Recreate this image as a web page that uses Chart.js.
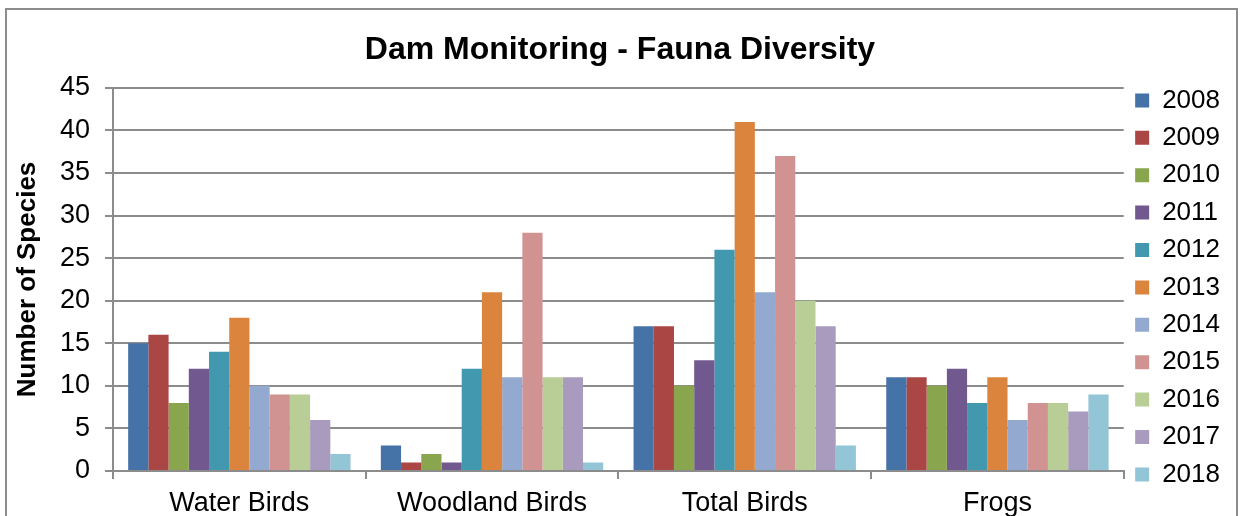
<!DOCTYPE html>
<html>
<head>
<meta charset="utf-8">
<script src="https://cdn.jsdelivr.net/npm/chart.js"></script>
<style>
  html, body { margin: 0; padding: 0; background: #fff; }
  #wrap { width: 1244px; height: 516px; position: relative; }
</style>
</head>
<body>
<div id="wrap"><canvas id="faunaChart" width="1244" height="516"></canvas></div>
<script>
const categories = ['Water Birds', 'Woodland Birds', 'Total Birds', 'Frogs'];
const years = ['2008', '2009', '2010', '2011', '2012', '2013', '2014', '2015', '2016', '2017', '2018'];

// one array per year: Water Birds, Woodland Birds, Total Birds, Frogs
const y2008 = [15, 3, 17, 11];
const y2009 = [16, 1, 17, 11];
const y2010 = [8, 2, 10, 10];
const y2011 = [12, 1, 13, 12];
const y2012 = [14, 12, 26, 8];
const y2013 = [18, 21, 41, 11];
const y2014 = [10, 11, 21, 6];
const y2015 = [9, 28, 37, 8];
const y2016 = [9, 11, 20, 8];
const y2017 = [6, 11, 17, 7];
const y2018 = [2, 1, 3, 9];
const yearValues = [y2008, y2009, y2010, y2011, y2012, y2013, y2014, y2015, y2016, y2017, y2018];

const colors = ['#4572A7', '#AA4643', '#89A54E', '#71588F', '#4198AF', '#DB843D',
                '#93A9CF', '#D19392', '#B9CD96', '#A99BBD', '#92C5D5'];

const fontFamily = '"Liberation Sans", Arial, sans-serif';
const gridColor = '#8c8c8c';

// outer frame like the spreadsheet chart border
const framePlugin = {
    id: 'frame',
    beforeDraw(chart) {
        const ctx = chart.ctx;
        ctx.save();
        ctx.fillStyle = '#fff';
        ctx.fillRect(0, 0, chart.width, chart.height);
        ctx.strokeStyle = gridColor;
        ctx.lineWidth = 2;
        ctx.strokeRect(6, 9, 1231, 540);
        ctx.restore();
    }
};

let datasets = [];
for (let i = 0; i < years.length; i++) {
    datasets.push({
        label: years[i],
        data: yearValues[i],
        backgroundColor: colors[i],
        borderWidth: 0,
        categoryPercentage: 0.88,
        barPercentage: 1.0
    });
}

new Chart('faunaChart', {
    type: 'bar',
    data: {
        labels: categories,
        datasets: datasets
    },
    plugins: [framePlugin],
    options: {
        responsive: false,
        animation: false,
        layout: {
            padding: { left: 10, right: 14, top: 12, bottom: 0 }
        },
        plugins: {
            title: {
                display: true,
                text: 'Dam Monitoring - Fauna Diversity',
                color: '#000',
                font: { family: fontFamily, size: 32, weight: 'bold' },
                padding: { top: 19, bottom: 18.5 }
            },
            legend: {
                position: 'right',
                align: 'start',
                title: {
                    display: true,
                    text: ' ',
                    font: { size: 10 },
                    padding: 26
                },
                labels: {
                    color: '#000',
                    font: { family: fontFamily, size: 26 },
                    boxWidth: 14,
                    boxHeight: 14,
                    padding: 11.4
                }
            },
            tooltip: { enabled: false }
        },
        scales: {
            x: {
                grid: {
                    offset: true,
                    drawOnChartArea: false,
                    drawTicks: true,
                    tickLength: 8,
                    color: gridColor,
                    lineWidth: 2
                },
                border: { color: gridColor, width: 2 },
                ticks: {
                    color: '#000',
                    font: { family: fontFamily, size: 27 },
                    padding: 8,
                    maxRotation: 0
                },
                afterFit: function (scale) {
                    scale.height = 45;
                }
            },
            y: {
                min: 0,
                max: 45,
                ticks: {
                    stepSize: 5,
                    color: '#000',
                    font: { family: fontFamily, size: 27 },
                    padding: 15
                },
                grid: {
                    color: gridColor,
                    lineWidth: 2,
                    tickLength: 8
                },
                border: { color: gridColor, width: 2 },
                title: {
                    display: true,
                    text: 'Number of Species',
                    color: '#000',
                    font: { family: fontFamily, size: 26, weight: 'bold' },
                    padding: { top: 2.5, bottom: 6 }
                },
                afterFit: function (scale) {
                    scale.width = 103;
                }
            }
        }
    }
});
</script>
</body>
</html>
